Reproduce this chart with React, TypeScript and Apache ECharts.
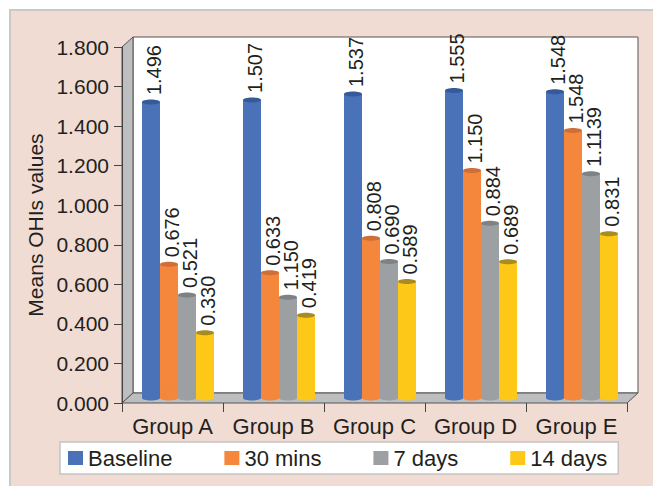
import React, { useEffect, useRef } from "react";
import * as echarts from "echarts";

const categories = ["Group A", "Group B", "Group C", "Group D", "Group E"];
const seriesNames = ["Baseline", "30 mins", "7 days", "14 days"];
const baselineValues = [1.496, 1.507, 1.537, 1.555, 1.548];
const mins30Values = [0.676, 0.633, 0.808, 1.15, 1.352];
const days7Values = [0.521, 0.51, 0.69, 0.884, 1.134];
const days14Values = [0.33, 0.419, 0.589, 0.689, 0.831];
const baselineLabels = ["1.496", "1.507", "1.537", "1.555", "1.548"];
const mins30Labels = ["0.676", "0.633", "0.808", "1.150", "1.548"];
const days7Labels = ["0.521", "1.150", "0.690", "0.884", "1.1139"];
const days14Labels = ["0.330", "0.419", "0.589", "0.689", "0.831"];
const yTickInterval = 0.2;
const yMax = 1.8;

const bodyColors = ["#4a72b9", "#f4873b", "#9da0a2", "#fdc817"];
const topColors = ["#36599a", "#cf6f38", "#7f8284", "#a88c22"];

const FONT = "'Liberation Sans', Arial, sans-serif";
const TXT = "#231f20";

const GL = 122, GT = 47, GW = 505, GH = 356;
const DEPTH_X = 11, DEPTH_Y = 10;
const DX = 5.5, DY = -5;
const BW = 18, RY = 2.5;

export default function App() {
  const ref = useRef<HTMLDivElement>(null);
  useEffect(() => {
    if (!ref.current) return;
    const chart = echarts.init(ref.current, null, { renderer: "svg" });
    const allValues = [baselineValues, mins30Values, days7Values, days14Values];
    const allLabels = [baselineLabels, mins30Labels, days7Labels, days14Labels];

    const makeSeries = (k: number) => ({
      type: "custom",
      name: seriesNames[k],
      itemStyle: { color: bodyColors[k] },
      encode: { x: 0, y: 1 },
      clip: false,
      z: 3,
      data: allValues[k].map((v, i) => [i, v]),
      renderItem: (params: any, api: any) => {
        const cat = api.value(0);
        const v = api.value(1);
        const base = api.coord([cat, 0]);
        const top = api.coord([cat, v]);
        const cx = base[0] + DX + (k - 1.5) * BW;
        const yb = base[1] + DY;
        const yt = top[1] + DY;
        return {
          type: "group",
          children: [
            { type: "rect", shape: { x: cx - BW / 2, y: yt, width: BW, height: yb - yt }, style: { fill: bodyColors[k] } },
            { type: "ellipse", shape: { cx, cy: yb, rx: BW / 2, ry: RY }, style: { fill: bodyColors[k] } },
            { type: "ellipse", shape: { cx, cy: yt, rx: BW / 2, ry: RY }, style: { fill: topColors[k] } },
            {
              type: "text",
              x: cx + 3,
              y: yt - 7,
              rotation: Math.PI / 2,
              style: {
                text: allLabels[k][params.dataIndex],
                fill: TXT,
                fontSize: 20,
                fontFamily: FONT,
                align: "left",
                verticalAlign: "middle",
              },
            },
          ],
        };
      },
    });

    const x0 = GL, y0 = GT, x1 = GL + GW, y1 = GT + GH;
    const option: any = {
      animation: false,
      backgroundColor: "#ffffff",
      textStyle: { fontFamily: FONT },
      graphic: [
        { type: "rect", z: -20, shape: { x: 10, y: 10, width: 700, height: 520 }, style: { fill: "#f1dcd4", stroke: "#c9c9c9", lineWidth: 2 } },
        { type: "polygon", z: -10, shape: { points: [[x0 + DEPTH_X, y0 - DEPTH_Y], [x1 + DEPTH_X, y0 - DEPTH_Y], [x1 + DEPTH_X, y1 - DEPTH_Y], [x0 + DEPTH_X, y1 - DEPTH_Y]] }, style: { fill: "#ffffff", stroke: "#555555", lineWidth: 1 } },
        { type: "polygon", z: -9, shape: { points: [[x0, y0], [x0 + DEPTH_X, y0 - DEPTH_Y], [x0 + DEPTH_X, y1 - DEPTH_Y], [x0, y1]] }, style: { fill: "#bcbec0", stroke: "#555555", lineWidth: 1 } },
        { type: "polygon", z: -9, shape: { points: [[x0, y1], [x0 + DEPTH_X, y1 - DEPTH_Y], [x1 + DEPTH_X, y1 - DEPTH_Y], [x1, y1]] }, style: { fill: "#bcbec0", stroke: "#555555", lineWidth: 1 } },
      ],
      grid: { left: GL, top: GT, width: GW, height: GH },
      legend: {
        left: 60,
        top: 442,
        orient: "horizontal",
        data: seriesNames.map((n, k) => ({ name: n, icon: "rect", itemStyle: { color: bodyColors[k] } })),
        itemWidth: 15,
        itemHeight: 14,
        itemGap: 52,
        padding: [5, 11, 5, 8],
        backgroundColor: "#ffffff",
        borderColor: "#c4c4c4",
        borderWidth: 1.5,
        borderRadius: 0,
        textStyle: { fontSize: 22, color: TXT, fontFamily: FONT },
      },
      xAxis: {
        type: "category",
        data: categories,
        boundaryGap: true,
        axisLine: { show: false },
        axisTick: { show: true, length: 9, interval: 0, alignWithLabel: false, lineStyle: { color: "#444444" } },
        axisLabel: { interval: 0, fontSize: 22, color: TXT, fontFamily: FONT, margin: 12 },
      },
      yAxis: {
        type: "value",
        min: 0,
        max: yMax,
        interval: yTickInterval,
        name: "Means OHIs values",
        nameLocation: "middle",
        nameGap: 76,
        nameRotate: 90,
        nameTextStyle: { fontSize: 21, color: TXT, fontFamily: FONT },
        axisLine: { show: true, lineStyle: { color: "#444444" } },
        axisTick: { show: true, length: 8, lineStyle: { color: "#444444" } },
        splitLine: { show: false },
        axisLabel: { fontSize: 21, color: TXT, fontFamily: FONT, margin: 13, formatter: (v: number) => v.toFixed(3) },
      },
      series: [0, 1, 2, 3].map(makeSeries),
    };
    chart.setOption(option);
    return () => chart.dispose();
  }, []);
  return <div ref={ref} style={{ position: "fixed", left: 0, top: 0, width: 653, height: 486 }} />;
}
